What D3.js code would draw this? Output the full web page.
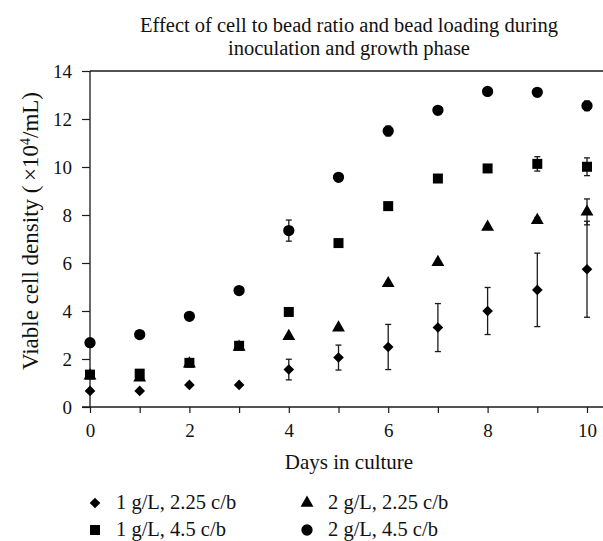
<!DOCTYPE html>
<html><head><meta charset="utf-8">
<script src="https://cdn.jsdelivr.net/npm/d3@7"></script>
<style>body{margin:0;background:#fff}svg{display:block}text{font-family:"Liberation Serif","Times New Roman",serif;fill:#111}</style>
</head><body><svg id="c" width="603" height="541"></svg>
<script>
const days = [0,1,2,3,4,5,6,7,8,9,10];
const xTicks = [0,2,4,6,8,10];
const yTicks = [0,2,4,6,8,10,12,14];
const seriesNames = ["1 g/L, 2.25 c/b","2 g/L, 2.25 c/b","1 g/L, 4.5 c/b","2 g/L, 4.5 c/b"];
const diamondVals = [0.67,0.67,0.92,0.92,1.56,2.06,2.5,3.31,4.0,4.88,5.74];
const diamondErr  = [0,0,0,0,0.43,0.52,0.94,1.0,0.98,1.53,2.0];
const triangleVals = [1.3,1.22,1.8,2.5,2.95,3.3,5.15,6.03,7.5,7.78,8.13];
const triangleErr  = [0,0,0,0,0,0,0,0,0,0.12,0.54];
const squareVals = [1.35,1.39,1.84,2.55,3.96,6.83,8.37,9.52,9.94,10.13,10.01];
const squareErr  = [0,0,0,0,0,0.1,0,0,0,0.3,0.37];
const circleVals = [2.68,3.02,3.78,4.85,7.35,9.57,11.5,12.36,13.15,13.11,12.55];
const circleErr  = [0,0,0,0,0.44,0,0.2,0,0,0.15,0.2];
const symbols = [d3.symbolDiamond2, d3.symbolTriangle, d3.symbolSquare, d3.symbolCircle];

const svg = d3.select("#c");
const x = d3.scaleLinear().domain([0,10]).range([90,587]);
const y = d3.scaleLinear().domain([0,14]).range([407,71]);
const ink = "#1a1a1a";

// title
svg.append("text").attr("x",349).attr("y",32).attr("text-anchor","middle").style("font-size","20.5px")
  .text("Effect of cell to bead ratio and bead loading during");
svg.append("text").attr("x",349).attr("y",55).attr("text-anchor","middle").style("font-size","20.5px")
  .text("inoculation and growth phase");

// frame top line
svg.append("line").attr("x1",90).attr("x2",603).attr("y1",y(14)).attr("y2",y(14)).attr("stroke",ink).attr("stroke-width",1.3);

// axes
const xAxis = d3.axisBottom(x).tickValues(days).tickSize(6).tickFormat(d => xTicks.includes(d) ? d : "");
const gx = svg.append("g").attr("transform",`translate(0,${y(0)})`).call(xAxis);
gx.select(".domain").attr("d",`M82,0H603`).attr("stroke",ink).attr("stroke-width",1.3);
gx.selectAll(".tick line").attr("stroke",ink).attr("stroke-width",1.2);
gx.selectAll(".tick text").attr("dy",0).attr("y",30).style("font-size","19px").style("font-family","Liberation Serif");

const yAxis = d3.axisLeft(y).tickValues(yTicks).tickSize(8).tickPadding(10);
const gy = svg.append("g").attr("transform",`translate(${x(0)},0)`).call(yAxis);
gy.select(".domain").attr("d",`M0,${y(0)}V${y(14)}`).attr("stroke",ink).attr("stroke-width",1.3);
gy.selectAll(".tick line").attr("stroke",ink).attr("stroke-width",1.2);
gy.selectAll(".tick text").style("font-size","19px").style("font-family","Liberation Serif");

// axis labels
svg.append("text").attr("x",349).attr("y",469).attr("text-anchor","middle").style("font-size","21px").text("Days in culture");
const yl = svg.append("text").attr("transform",`translate(38,231) rotate(-90)`).attr("text-anchor","middle").style("font-size","23px");
yl.append("tspan").text("Viable cell density (\u2009×10");
yl.append("tspan").attr("dy",-8).style("font-size","14px").text("4");
yl.append("tspan").attr("dy",8).text("/mL)");

// data
const vals = [diamondVals, triangleVals, squareVals, circleVals];
const errs = [diamondErr, triangleErr, squareErr, circleErr];
const sizes = [72, 72, 100, 100];
const order = [1,2,0,3];
order.forEach(si => {
  const g = svg.append("g");
  days.forEach((d,i) => {
    const v = vals[si][i], e = errs[si][i];
    if (e > 0) {
      const xc = x(d);
      g.append("line").attr("x1",xc).attr("x2",xc).attr("y1",y(v+e)).attr("y2",y(v-e)).attr("stroke",ink).attr("stroke-width",1.3);
      [v+e, v-e].forEach(t => g.append("line").attr("x1",xc-3).attr("x2",xc+3).attr("y1",y(t)).attr("y2",y(t)).attr("stroke",ink).attr("stroke-width",1.3));
    }
  });
  g.selectAll("path.m").data(days).join("path").attr("class","m")
    .attr("transform",(d,i)=>`translate(${x(d)},${y(vals[si][i])})`)
    .attr("d", d3.symbol().type(symbols[si]).size(sizes[si])()).attr("fill","#000");
});

// legend
const legPos = [[95,503],[307,503],[95,530],[307,530]];
seriesNames.forEach((name,si) => {
  const [lx,ly] = legPos[si];
  svg.append("path").attr("transform",`translate(${lx},${ly})`).attr("d", d3.symbol().type(symbols[si]).size(sizes[si])()).attr("fill","#000");
  svg.append("text").attr("x",lx+21).attr("y",ly+6).style("font-size","20.5px").text(name);
});
</script></body></html>
